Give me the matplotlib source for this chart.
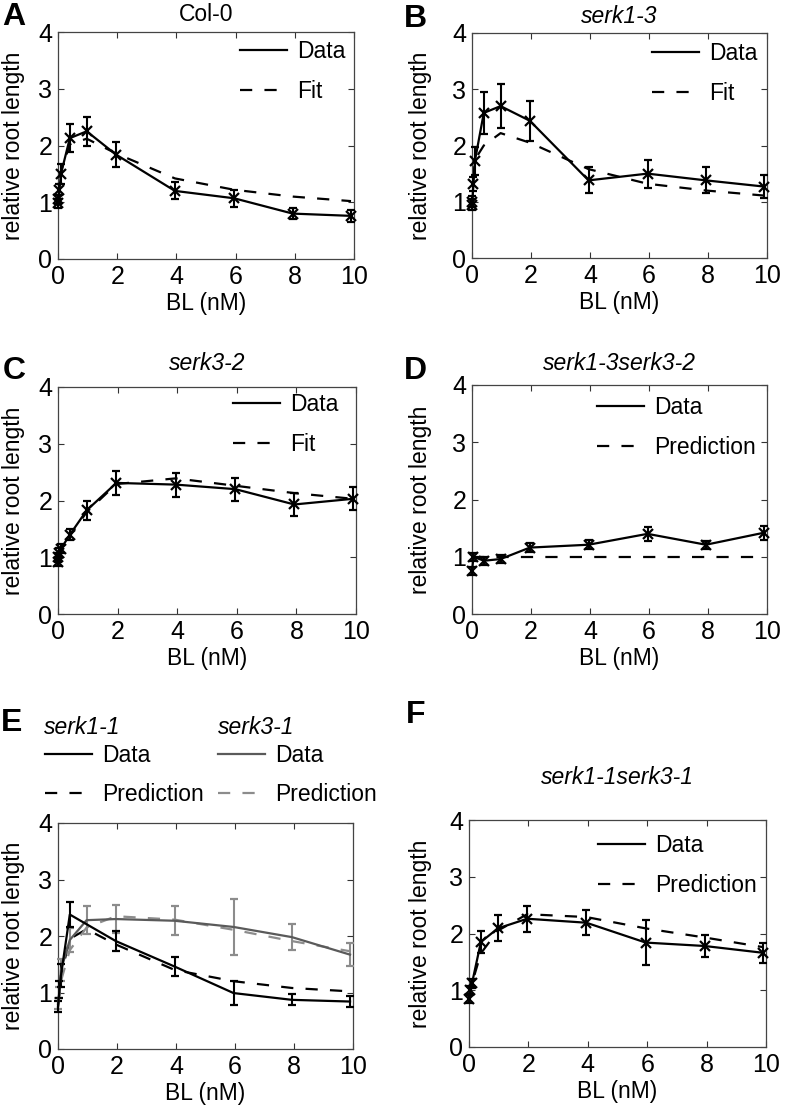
import numpy as np
import matplotlib
matplotlib.use('Agg')
import matplotlib.pyplot as plt
from matplotlib.lines import Line2D

plt.rcParams['font.family'] = ['Liberation Sans', 'DejaVu Sans']

W, H = 793, 1114
FS = 16.5
TFS = 18

# BL doses (nM)
dose = [0, 0.01, 0.05, 0.1, 0.4, 0.97, 1.96, 3.95, 5.95, 7.93, 9.9]
dose_short = [0, 0.05, 0.1, 0.4, 0.97, 1.96, 3.95, 5.95, 7.93, 9.9]
dose_d = [0, 0.05, 0.4, 0.97, 1.96, 3.95, 5.95, 7.93, 9.9]
dose_e1 = [0, 0.05, 0.1, 0.4, 1.96, 3.95, 5.95, 7.93, 9.9]

# A: Col-0
col0_y = [0.98, 1.05, 1.22, 1.5, 2.13, 2.25, 1.84, 1.2, 1.07, 0.8, 0.76]
col0_err = [0.08, 0.08, 0.1, 0.18, 0.25, 0.26, 0.22, 0.15, 0.15, 0.1, 0.1]
col0_fit = [1.0, 1.05, 1.25, 1.55, 2.02, 2.12, 1.86, 1.42, 1.22, 1.1, 1.02]

# B: serk1-3
s13_y = [0.95, 1.0, 1.32, 1.73, 2.58, 2.70, 2.44, 1.38, 1.50, 1.38, 1.27]
s13_err = [0.1, 0.1, 0.12, 0.25, 0.38, 0.39, 0.36, 0.23, 0.25, 0.23, 0.21]
s13_fit = [0.98, 1.1, 1.45, 1.75, 2.0, 2.22, 2.05, 1.58, 1.32, 1.2, 1.11]

# C: serk3-2
s32_y = [0.92, 1.0, 1.08, 1.15, 1.4, 1.83, 2.31, 2.28, 2.2, 1.93, 2.03]
s32_err = [0.08, 0.08, 0.08, 0.08, 0.1, 0.17, 0.21, 0.21, 0.2, 0.2, 0.2]
s32_fit = [0.95, 1.0, 1.08, 1.15, 1.38, 1.8, 2.29, 2.39, 2.26, 2.13, 2.03]

# D: serk1-3serk3-2
dbl_y = [0.75, 1.0, 0.93, 0.96, 1.16, 1.21, 1.40, 1.21, 1.42]
dbl_err = [0.07, 0.07, 0.07, 0.07, 0.08, 0.08, 0.12, 0.07, 0.12]
dbl_pred = [1.0, 1.0, 1.0, 1.0, 1.0, 1.0, 1.0, 1.0, 1.0]

# E: serk1-1 (black) and serk3-1 (grey)
s11_y = [0.75, 1.05, 1.3, 2.38, 1.91, 1.46, 0.99, 0.87, 0.84]
s11_err = [0.1, 0.15, 0.2, 0.22, 0.18, 0.16, 0.22, 0.1, 0.1]
s11_pred = [0.75, 1.0, 1.3, 1.95, 2.12, 1.85, 1.4, 1.2, 1.08, 1.02]
s31_y = [0.8, 1.0, 1.4, 1.93, 2.28, 2.3, 2.27, 2.16, 1.98, 1.67]
s31_err = [0.1, 0.1, 0.2, 0.22, 0.25, 0.24, 0.26, 0.49, 0.23, 0.2]
s31_pred = [0.8, 0.95, 1.2, 1.75, 2.15, 2.35, 2.29, 2.11, 1.91, 1.73]

# F: serk1-1serk3-1
d11_y = [0.85, 1.0, 1.12, 1.85, 2.09, 2.26, 2.19, 1.84, 1.78, 1.66]
d11_err = [0.08, 0.08, 0.08, 0.2, 0.23, 0.23, 0.22, 0.4, 0.19, 0.18]
d11_pred = [0.85, 1.0, 1.12, 1.65, 2.05, 2.34, 2.29, 2.09, 1.93, 1.76]

DASH = (0, (5.5, 5.5))
LW = 1.6

fig = plt.figure(figsize=(W / 100, H / 100), dpi=100)


def axes_px(l, t, r, b):
    return fig.add_axes([l / W, 1 - b / H, (r - l) / W, (b - t) / H])


def style(ax, ylab_right, xlab_top, l, b, w, h):
    ax.set_xlim(0, 10)
    ax.set_ylim(0, 4)
    ax.set_xticks([0, 2, 4, 6, 8, 10])
    ax.set_yticks([0, 1, 2, 3, 4])
    ax.tick_params(direction='in', top=True, right=True, length=4,
                   width=0.8, labelsize=TFS, pad=4, color='#333333')
    for s in ax.spines.values():
        s.set_color('#444444')
        s.set_linewidth(0.9)
    ax.set_xlabel('BL (nM)', fontsize=FS)
    ax.set_ylabel('relative root length', fontsize=FS)
    ax.yaxis.set_label_coords((ylab_right - l) / w, 0.5)
    ax.xaxis.set_label_coords(0.5, (b - xlab_top) / h)


def draw(ax, x, y, err, color='black', ecolor=None, marker='x'):
    ax.errorbar(x, y, yerr=err, color=color, ecolor=ecolor or color, lw=LW,
                elinewidth=1.5, capsize=3.2, capthick=1.5, marker=marker,
                ms=7.5, mew=1.6, clip_on=False, zorder=3)


def legend(ax, labels, hx, hy, spacing=0.75):
    handles = [Line2D([], [], color='black', lw=LW),
               Line2D([], [], color='black', lw=LW, ls=DASH)]
    ax.legend(handles, labels, loc='upper left', frameon=False,
              bbox_to_anchor=(hx / W, 1 - (hy - 12) / H),
              bbox_transform=fig.transFigure, fontsize=FS, borderpad=0,
              borderaxespad=0, handlelength=2.05, handletextpad=0.45,
              labelspacing=spacing)


panels = [
    # l, t, r, b
    (58, 32, 354, 259),
    (472, 33, 767, 258),
    (58, 387, 356, 614),
    (472, 385, 767, 614),
    (58, 823, 353, 1049),
    (469, 820, 766, 1047),
]
axs = [axes_px(*p) for p in panels]

ylab_r = [25, 432, 25, 432, 25, 432]
for ax, p, yr in zip(axs, panels, ylab_r):
    l, t, r, b = p
    style(ax, yr, b + 33, l, b, r - l, b - t)

# A
ax = axs[0]
ax.plot(dose, col0_fit, color='black', lw=LW, ls=DASH, zorder=2)
draw(ax, dose, col0_y, col0_err)
ax.set_title('Col-0', fontsize=FS, pad=8)
legend(ax, ['Data', 'Fit'], 240, 52)

# B
ax = axs[1]
ax.plot(dose, s13_fit, color='black', lw=LW, ls=DASH, zorder=2)
draw(ax, dose, s13_y, s13_err)
ax.set_title('serk1-3', fontsize=FS, style='italic', pad=7.5)
legend(ax, ['Data', 'Fit'], 652, 54)

# C
ax = axs[2]
ax.plot(dose, s32_fit, color='black', lw=LW, ls=DASH, zorder=2)
draw(ax, dose, s32_y, s32_err)
ax.set_title('serk3-2', fontsize=FS, style='italic', pad=12)
legend(ax, ['Data', 'Fit'], 233, 405)

# D
ax = axs[3]
ax.plot(dose_d, dbl_pred, color='black', lw=LW, ls=DASH, zorder=2)
draw(ax, dose_d, dbl_y, dbl_err)
ax.set_title('serk1-3serk3-2', fontsize=FS, style='italic', pad=11)
legend(ax, ['Data', 'Prediction'], 597, 408)

# E
ax = axs[4]
ax.plot(dose_short, s11_pred, color='black', lw=LW, ls=DASH, zorder=2)
ax.plot(dose_short, s31_pred, color='#8c8c8c', lw=LW, ls=DASH, zorder=2)
draw(ax, dose_short, s31_y, s31_err, color='#5a5a5a', ecolor='#8c8c8c', marker=None)
draw(ax, dose_e1, s11_y, s11_err, marker=None)
fig.text(44 / W, 1 - 727 / H, 'serk1-1', fontsize=FS, style='italic', va='center')
fig.text(218 / W, 1 - 727 / H, 'serk3-1', fontsize=FS, style='italic', va='center')
h1 = [Line2D([], [], color='black', lw=LW),
      Line2D([], [], color='black', lw=LW, ls=DASH)]
h2 = [Line2D([], [], color='#5a5a5a', lw=LW),
      Line2D([], [], color='#8c8c8c', lw=LW, ls=DASH)]
for hx, hh in [(45, h1), (218, h2)]:
    fig.legend(hh, ['Data', 'Prediction'], loc='upper left', frameon=False,
               bbox_to_anchor=(hx / W, 1 - (756 - 12) / H),
               fontsize=FS, borderpad=0, borderaxespad=0,
               handlelength=2.05, handletextpad=0.45, labelspacing=0.7)

# F
ax = axs[5]
ax.plot(dose_short, d11_pred, color='black', lw=LW, ls=DASH, zorder=2)
draw(ax, dose_short, d11_y, d11_err)
ax.set_title('serk1-1serk3-1', fontsize=FS, style='italic', pad=26)
legend(ax, ['Data', 'Prediction'], 598, 846)

# panel letters
for letter, x, y in [('A', 2, 2), ('B', 404, 4), ('C', 3, 356), ('D', 404, 356),
                     ('E', 1, 708), ('F', 406, 700)]:
    fig.text(x / W, 1 - y / H, letter, fontsize=23, fontweight='bold', va='top', ha='left')

fig.savefig('out.png', dpi=100)
